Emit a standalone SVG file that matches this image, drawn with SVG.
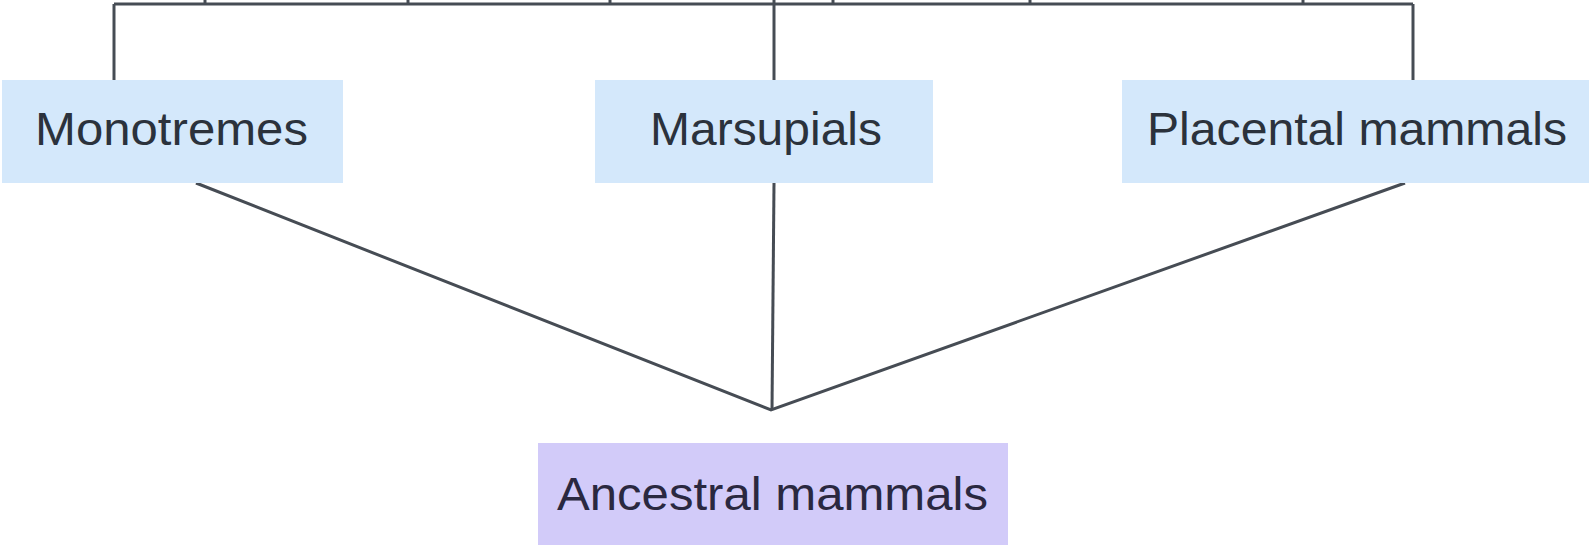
<svg xmlns="http://www.w3.org/2000/svg" width="1589" height="545" viewBox="0 0 1589 545">
<style>
.bg{fill:#ffffff}
.blue{fill:#d4e8fb}
.purple{fill:#d2cbf9}
.lbl{font-family:"Liberation Sans",Arial,sans-serif;font-size:46px;fill:#2b323c}
.lbl2{font-family:"Liberation Sans",Arial,sans-serif;font-size:46px;fill:#2a2840}
.ln{stroke:#464c54;stroke-width:3;fill:none}
</style>
<rect class="bg" x="0" y="0" width="1589" height="545"/>
<g id="connectors">
<line class="ln" x1="114" y1="4" x2="1413" y2="4"/>
<line class="ln" x1="114" y1="4" x2="114" y2="80"/>
<line class="ln" x1="774" y1="0" x2="774" y2="80"/>
<line class="ln" x1="1413" y1="4" x2="1413" y2="80"/>
<line class="ln" x1="205" y1="0" x2="205" y2="4"/>
<line class="ln" x1="408" y1="0" x2="408" y2="4"/>
<line class="ln" x1="610" y1="0" x2="610" y2="4"/>
<line class="ln" x1="833" y1="0" x2="833" y2="4"/>
<line class="ln" x1="1030" y1="0" x2="1030" y2="4"/>
<line class="ln" x1="1303" y1="0" x2="1303" y2="4"/>
<polyline class="ln" points="196,183 771,410 1405,183"/>
<line class="ln" x1="774" y1="183" x2="772" y2="410"/>
</g>
<g id="monotremes">
<rect class="blue" x="2" y="80" width="341" height="103"/>
<text class="lbl" x="35" y="145" textLength="273" lengthAdjust="spacingAndGlyphs">Monotremes</text>
</g>
<g id="marsupials">
<rect class="blue" x="595" y="80" width="338" height="103"/>
<text class="lbl" x="650" y="145" textLength="232" lengthAdjust="spacingAndGlyphs">Marsupials</text>
</g>
<g id="placental">
<rect class="blue" x="1122" y="80" width="467" height="103"/>
<text class="lbl" x="1147" y="145" textLength="420" lengthAdjust="spacingAndGlyphs">Placental mammals</text>
</g>
<g id="ancestral">
<rect class="purple" x="538" y="443" width="470" height="102"/>
<text class="lbl2" x="557" y="510" textLength="431" lengthAdjust="spacingAndGlyphs">Ancestral mammals</text>
</g>
</svg>
